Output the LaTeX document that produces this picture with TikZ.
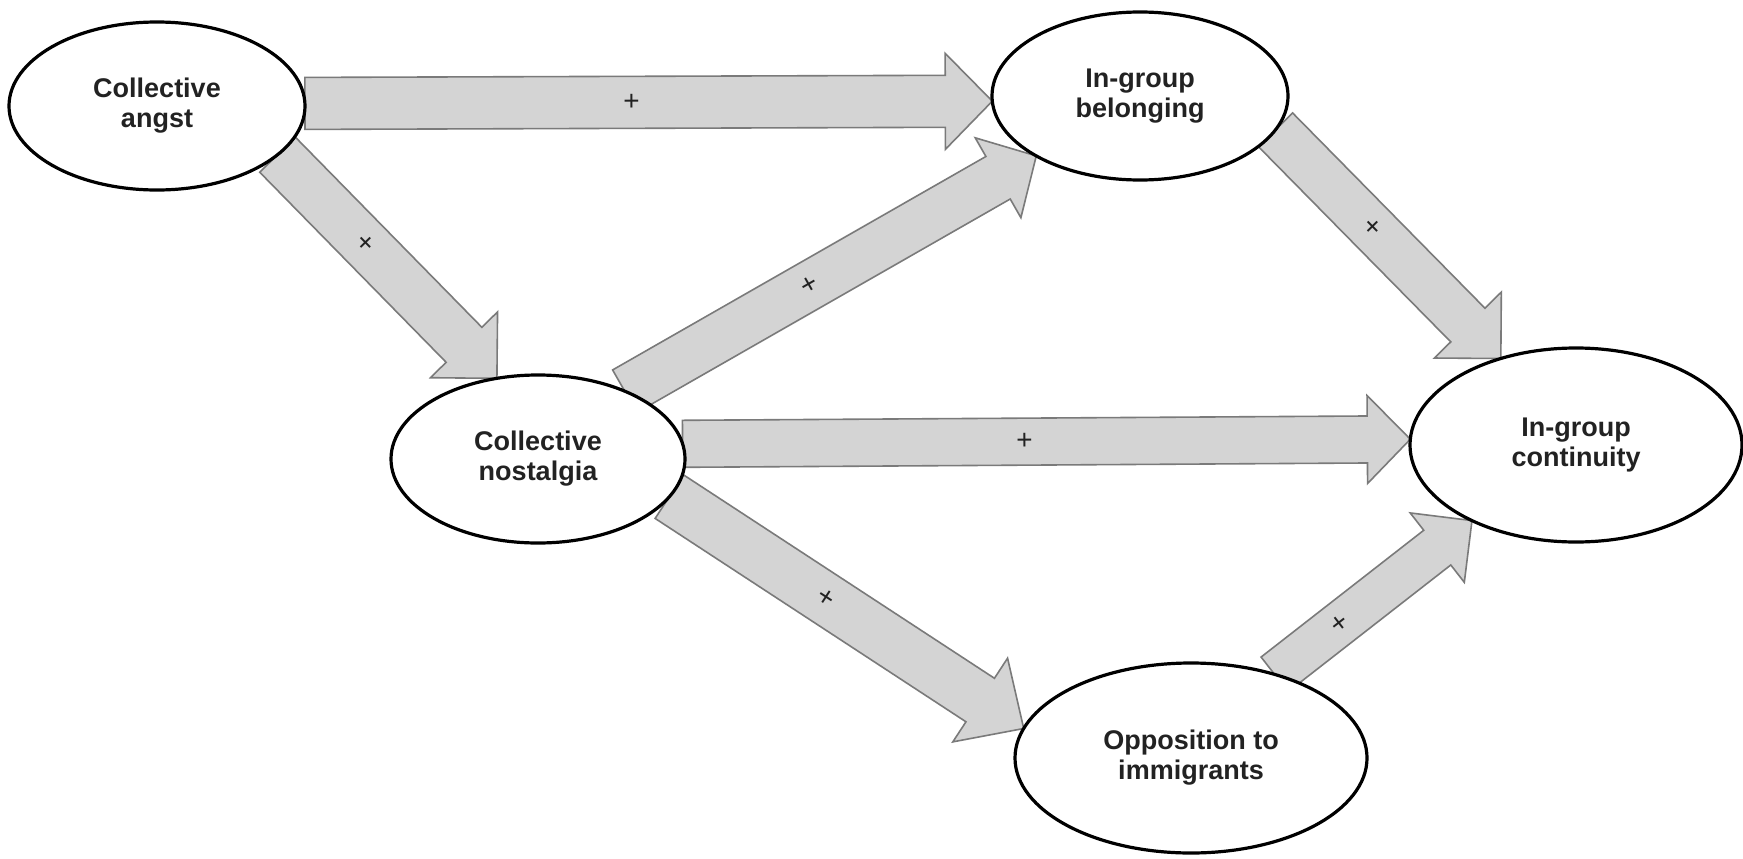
\documentclass[tikz,border=0pt]{standalone}
\usepackage{fontspec}
\setmainfont{Liberation Sans}
\usetikzlibrary{calc,shapes.geometric}
\pgfdeclarelayer{bg}
\pgfsetlayers{bg,main}
\definecolor{arrfill}{HTML}{D4D4D4}
\definecolor{arrline}{HTML}{7A7A7A}
\definecolor{txtcol}{HTML}{222222}
\tikzset{
  var/.style={ellipse, draw=black, line width=3.2pt, fill=white, inner sep=0pt,
    outer sep=0pt, align=center, text=txtcol,
    font=\fontsize{27}{30}\selectfont\bfseries},
  blockarrow/.style={fill=arrfill, draw=arrline, line width=1.6pt, line join=miter},
  signlabel/.style={font=\fontsize{28}{28}\selectfont, text=txtcol, inner sep=0pt}
}
% #1 start anchor, #2 end anchor, #3 half shaft, #4 half head, #5 head length, #6 label pos
\newcommand\blockarr[6]{%
  \coordinate (s) at (#1);
  \coordinate (e) at (#2);
  \coordinate (b) at ($(e)!#5pt!(s)$);
  \draw[blockarrow] ($(s)!#3pt!90:(e)$) -- ($(b)!#3pt!90:(e)$) -- ($(b)!#4pt!90:(e)$)
    -- (e) -- ($(b)!#4pt!-90:(e)$) -- ($(b)!#3pt!-90:(e)$) -- ($(s)!#3pt!-90:(e)$) -- cycle;
  \path (s) -- (e) node[signlabel, pos=#6, sloped] {+};
}
\begin{document}
\begin{tikzpicture}[x=1pt,y=-1pt]
\useasboundingbox (0,0) rectangle (1743,859);
\begin{pgfonlayer}{bg}
\fill[white] (0,0) rectangle (1743,859);
\end{pgfonlayer}

\node[var, minimum width=296pt, minimum height=168pt] (ang) at (157,106) {Collective\\angst};
\node[var, minimum width=296pt, minimum height=168pt] (bel) at (1140,96) {In-group\\belonging};
\node[var, minimum width=294pt, minimum height=168pt] (nos) at (538,459) {Collective\\nostalgia};
\node[var, minimum width=332pt, minimum height=194pt] (con) at (1576,445) {In-group\\continuity};
\node[var, minimum width=352pt, minimum height=190pt] (opp) at (1191,758) {Opposition to\\immigrants};

\begin{pgfonlayer}{bg}
\blockarr{ang.1.16}{bel.182.7}{26}{48}{47}{0.475}
\blockarr{ang.-22.3}{nos.117.1}{25}{47}{47}{0.40}
\blockarr{nos.38.1}{bel.210.5}{24.5}{46}{44}{0.45}
\blockarr{nos.6.74}{con.178.96}{23.5}{44}{43}{0.47}
\blockarr{nos.-16.2}{opp.170}{26}{50}{52}{0.44}
\blockarr{bel.-14.8}{con.131.5}{24}{47}{47}{0.43}
\blockarr{opp.45.3}{con.216}{22}{44}{44}{0.33}
\end{pgfonlayer}
\end{tikzpicture}
\end{document}
